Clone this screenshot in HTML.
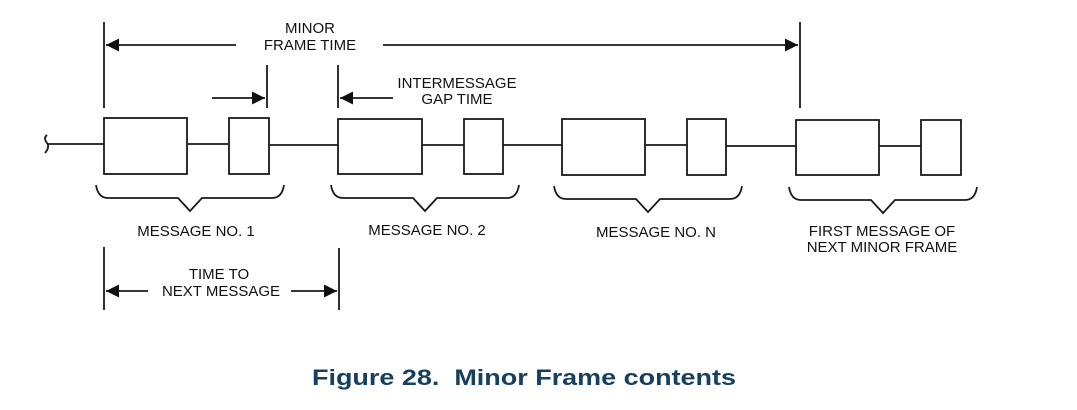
<!DOCTYPE html>
<html><head><meta charset="utf-8"><style>
html,body{margin:0;padding:0;background:#fff;}
svg{display:block;}
text{font-family:"Liberation Sans",Arial,sans-serif;font-size:15px;fill:#111;}
</style></head><body>
<svg width="1077" height="410" viewBox="0 0 1077 410" xmlns="http://www.w3.org/2000/svg">
<defs>
<marker id="ah" viewBox="0 0 10 10" refX="10" refY="5" markerWidth="13" markerHeight="13" markerUnits="userSpaceOnUse" orient="auto-start-reverse"><path d="M0,0 L10,5 L0,10 z" fill="#111"/></marker>
</defs>
<g stroke="#1a1a1a" stroke-width="1.8" fill="none">
<line x1="104" y1="22" x2="104" y2="108"/>
<line x1="800" y1="22" x2="800" y2="108"/>
<line x1="106" y1="45" x2="236" y2="45" marker-start="url(#ah)"/>
<line x1="383" y1="45" x2="798" y2="45" marker-end="url(#ah)"/>
<line x1="267" y1="65" x2="267" y2="108"/>
<line x1="338" y1="65" x2="338" y2="108"/>
<line x1="212" y1="98" x2="265" y2="98" marker-end="url(#ah)"/>
<line x1="393" y1="98" x2="340" y2="98" marker-end="url(#ah)"/>
<path d="M47,135 q-4,3 0,8 q3,4 -2,10"/>
<line x1="47" y1="144" x2="104" y2="144"/>
<line x1="187" y1="144" x2="229" y2="144"/>
<line x1="269" y1="145" x2="338" y2="145"/>
<line x1="422" y1="145" x2="464" y2="145"/>
<line x1="503" y1="145" x2="562" y2="145"/>
<line x1="645" y1="145" x2="687" y2="145"/>
<line x1="726" y1="146" x2="796" y2="146"/>
<line x1="879" y1="146" x2="921" y2="146"/>
<rect x="104" y="118" width="83" height="56"/>
<rect x="229" y="118" width="40" height="56"/>
<rect x="338" y="119" width="84" height="55"/>
<rect x="464" y="119" width="39" height="55"/>
<rect x="562" y="119" width="83" height="56"/>
<rect x="687" y="119" width="39" height="56"/>
<rect x="796" y="120" width="83" height="55"/>
<rect x="921" y="120" width="40" height="55"/>
<path d="M96,185 q2,13 12,13 L178,198 L190,211 L202,198 L272,198 q10,0 12,-13"/>
<path d="M331,185 q2,13 12,13 L413,198 L425,211 L437,198 L507,198 q10,0 12,-13"/>
<path d="M554,186 q2,13 12,13 L636,199 L648,212 L660,199 L730,199 q10,0 12,-13"/>
<path d="M789,187 q2,13 12,13 L871,200 L883,213 L895,200 L965,200 q10,0 12,-13"/>
<line x1="104" y1="247" x2="104" y2="310"/>
<line x1="339" y1="248" x2="339" y2="310"/>
<line x1="148" y1="291" x2="106" y2="291" marker-end="url(#ah)"/>
<line x1="291" y1="291" x2="337" y2="291" marker-end="url(#ah)"/>
</g>
<g text-anchor="middle">
<text x="310" y="33">MINOR</text>
<text x="310" y="50">FRAME TIME</text>
<text x="457" y="88">INTERMESSAGE</text>
<text x="457" y="104">GAP TIME</text>
<text x="196" y="236">MESSAGE NO. 1</text>
<text x="427" y="235">MESSAGE NO. 2</text>
<text x="656" y="237">MESSAGE NO. N</text>
<text x="882" y="236">FIRST MESSAGE OF</text>
<text x="882" y="252">NEXT MINOR FRAME</text>
<text x="219" y="279">TIME TO</text>
<text x="221" y="296">NEXT MESSAGE</text>
<text x="524" y="385" style="font-size:22px;font-weight:bold;fill:#17405f" textLength="424" lengthAdjust="spacingAndGlyphs" xml:space="preserve">Figure 28.  Minor Frame contents</text>
</g>
</svg>
</body></html>
